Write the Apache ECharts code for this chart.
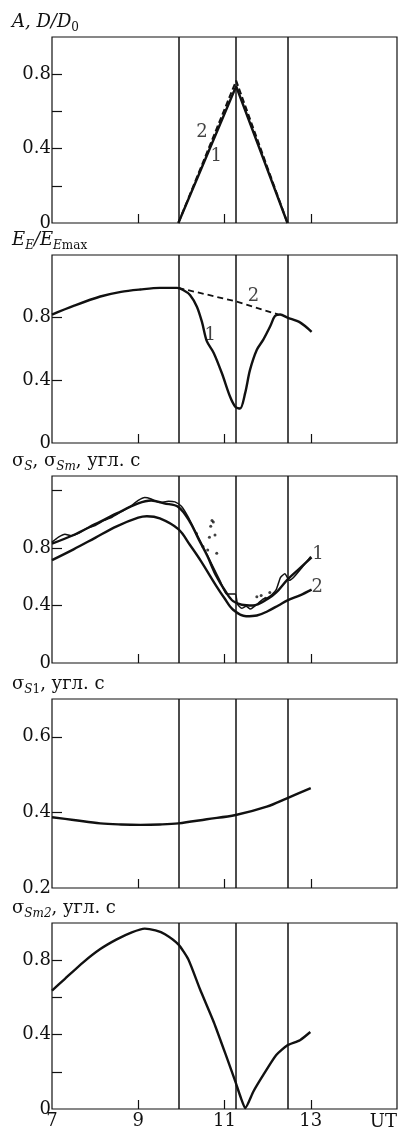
<!DOCTYPE html>
<html>
<head>
<meta charset="utf-8">
<title>eclipse panels</title>
<script src="https://cdn.jsdelivr.net/npm/echarts@6/dist/echarts.min.js"></script>
<style>
    html, body { margin: 0; padding: 0; background: #fff; }
    #chart { width: 400px; height: 1130px; }
</style>
</head>
<body>
<div id="chart"></div>
<script>
// contact times of the eclipse, UT hours (vertical lines)
var contacts = [9.93, 11.26, 12.46];

// panel 1: A (1) and D/D0 (2)
var aCurve = [[9.93, 0], [11.27, 0.735], [12.46, 0]];
var dCurve = [[9.93, 0], [11.27, 0.765], [12.46, 0]];

// panel 2: E_E/E_Emax, measured (1) and without eclipse (2)
var eMeas = [[7, 0.82], [7.5, 0.875], [8.12, 0.935], [8.6, 0.965], [9.05, 0.98], [9.5, 0.99], [9.9, 0.99],
    [10.05, 0.975], [10.2, 0.945], [10.36, 0.87], [10.48, 0.77], [10.59, 0.65], [10.75, 0.575],
    [10.94, 0.445], [11.13, 0.295], [11.25, 0.232], [11.36, 0.22], [11.48, 0.32], [11.59, 0.465],
    [11.75, 0.595], [11.9, 0.66], [12.06, 0.745], [12.17, 0.81], [12.29, 0.82], [12.46, 0.80],
    [12.75, 0.77], [13.02, 0.71]];
var eNoEcl = [[9.93, 0.99], [11.25, 0.905], [12.25, 0.82]];

// panel 3: sigma_S measured, sigma_S (1), sigma_Sm (2)
var sMeas = [[7.0, 0.84], [7.15, 0.875], [7.3, 0.895], [7.45, 0.885], [7.6, 0.9], [7.8, 0.935], [8.0, 0.955],
    [8.2, 0.99], [8.4, 1.015], [8.6, 1.05], [8.8, 1.085], [9.0, 1.13], [9.15, 1.15], [9.3, 1.14],
    [9.5, 1.115], [9.7, 1.125], [9.85, 1.12], [10.0, 1.09], [10.15, 1.02], [10.3, 0.93], [10.45, 0.84],
    [10.6, 0.75], [10.75, 0.66], [10.9, 0.57], [11.05, 0.48], [11.25, 0.48], [11.3, 0.41], [11.4, 0.38],
    [11.5, 0.395], [11.6, 0.375], [11.7, 0.395], [11.8, 0.42], [11.9, 0.445], [12.0, 0.455],
    [12.1, 0.475], [12.2, 0.51], [12.3, 0.595], [12.4, 0.62], [12.5, 0.575], [12.6, 0.595],
    [12.8, 0.665], [13.0, 0.74]];
var sCurve1 = [[7, 0.83], [7.5, 0.89], [8, 0.965], [8.5, 1.04], [9, 1.11], [9.3, 1.13], [9.6, 1.11],
    [9.93, 1.085], [10.2, 0.98], [10.4, 0.86], [10.6, 0.745], [10.8, 0.61], [11.04, 0.49], [11.2, 0.43],
    [11.4, 0.405], [11.66, 0.40], [12.0, 0.445], [12.2, 0.49], [12.46, 0.58], [12.75, 0.66], [13.02, 0.735]];
var sCurve2 = [[7, 0.715], [7.5, 0.79], [8, 0.87], [8.5, 0.95], [9, 1.01], [9.2, 1.02], [9.5, 1.005],
    [9.93, 0.93], [10.2, 0.82], [10.45, 0.71], [10.8, 0.54], [11.0, 0.45], [11.2, 0.37], [11.5, 0.325],
    [11.75, 0.33], [12.0, 0.36], [12.25, 0.40], [12.46, 0.435], [12.75, 0.47], [13.02, 0.51]];
var sDots = [[10.71, 0.99], [10.74, 0.98], [10.68, 0.95], [10.78, 0.89], [10.65, 0.875], [10.61, 0.786],
    [10.82, 0.763], [10.35, 0.9], [10.5, 0.81], [11.75, 0.46], [11.85, 0.47], [11.95, 0.45], [12.05, 0.49]];

// panel 4: sigma_S1
var s1Curve = [[7, 0.387], [7.5, 0.38], [8.12, 0.371], [8.6, 0.368], [9.05, 0.367], [9.5, 0.368],
    [9.93, 0.371], [10.59, 0.382], [11.26, 0.393], [11.98, 0.415], [12.46, 0.438], [13.0, 0.464]];

// panel 5: sigma_Sm2
var sm2Curve = [[7, 0.636], [7.3, 0.7], [7.73, 0.79], [8.12, 0.86], [8.5, 0.912], [8.85, 0.95],
    [9.15, 0.97], [9.4, 0.96], [9.62, 0.94], [9.93, 0.885], [10.16, 0.805], [10.43, 0.645],
    [10.75, 0.468], [11.06, 0.272], [11.25, 0.148], [11.38, 0.06], [11.48, 0.005], [11.67, 0.094],
    [11.9, 0.183], [12.2, 0.29], [12.46, 0.343], [12.75, 0.37], [12.99, 0.414]];

// curve numbers inside the panels
var marks1 = [{ value: [10.48, 0.485], name: '2' }, { value: [10.81, 0.357], name: '1' }];
var marks2 = [{ value: [11.67, 0.934], name: '2' }, { value: [10.67, 0.69], name: '1' }];
var marks3 = [{ value: [13.17, 0.758], name: '1' }, { value: [13.15, 0.526], name: '2' }];

// y axes: range, ticks, labels
var yRanges = [[0, 1.0], [0, 1.2], [0, 1.3], [0.2, 0.7], [0, 1.0]];
var yTicks = [[0.2, 0.4, 0.6, 0.8], [0.4, 0.8], [0.4, 0.8, 1.2], [0.4, 0.6], [0.2, 0.4, 0.6, 0.8]];
var yLabels = [[0, 0.4, 0.8], [0, 0.4, 0.8], [0, 0.4, 0.8], [0.2, 0.4, 0.6], [0, 0.4, 0.8]];
var xTicks = [9, 11, 13];
var xLabels = [7, 9, 11, 13];

var FONT = 'DejaVu Serif';
var INK = '#111';
var panelTop = [37, 255, 476, 699, 923];
var panelH = [186, 188, 187, 189, 188];

var rich = {
    n: { fontFamily: FONT, fontSize: 18, lineHeight: 24, fontWeight: 'normal', color: INK },
    i: { fontFamily: FONT, fontSize: 18, lineHeight: 24, fontWeight: 'normal', fontStyle: 'italic', color: INK },
    s: { fontFamily: FONT, fontSize: 12, lineHeight: 12, fontWeight: 'normal', fontStyle: 'italic', verticalAlign: 'bottom', color: INK },
    u: { fontFamily: FONT, fontSize: 12, lineHeight: 12, fontWeight: 'normal', verticalAlign: 'bottom', color: INK }
};
var titleTexts = [
    '{i|A, D/D}{u|0}',
    '{i|E}{s|E}{i|/E}{s|E}{u|max}',
    '{n|σ}{s|S}{n|, σ}{s|Sm}{n|, угл. с}',
    '{n|σ}{s|S}{u|1}{n|, угл. с}',
    '{n|σ}{s|Sm2}{n|, угл. с}'
];

var myChart = echarts.init(document.getElementById('chart'));

var grids = [], xAxes = [], yAxes = [], titles = [];
for (var i = 0; i < 5; i++) {
    grids.push({
        left: 52, right: 3, top: panelTop[i], height: panelH[i],
        show: true, borderColor: INK, borderWidth: 1.2, backgroundColor: 'transparent'
    });
    xAxes.push({
        gridIndex: i, type: 'value', min: 7, max: 15,
        axisLine: { show: false },
        splitLine: { show: false },
        axisTick: { show: true, inside: true, length: 9, customValues: xTicks, lineStyle: { color: INK, width: 1.2 } },
        axisLabel: {
            show: i === 4, customValues: xLabels, margin: 3,
            fontFamily: FONT, fontSize: 18, color: INK
        }
    });
    (function (idx) {
        yAxes.push({
            gridIndex: idx, type: 'value', min: yRanges[idx][0], max: yRanges[idx][1],
            axisLine: { show: false },
            splitLine: { show: false },
            axisTick: { show: true, inside: true, length: 10, customValues: yTicks[idx], lineStyle: { color: INK, width: 1.2 } },
            axisLabel: {
                customValues: yLabels[idx], margin: 1,
                fontFamily: FONT, fontSize: 18, color: INK,
                formatter: function (v) { return v === 0 ? '0' : v.toFixed(1); }
            }
        });
    })(i);
    titles.push({
        text: titleTexts[i], left: 12, top: panelTop[i] - 27, padding: 0,
        textStyle: { fontWeight: 'normal', rich: rich }
    });
}
titles.push({
    text: 'UT', right: 3, top: 1113, padding: 0,
    textStyle: { fontFamily: FONT, fontSize: 18, fontWeight: 'normal', color: INK }
});

function contactLines() {
    return {
        silent: true, symbol: ['none', 'none'],
        label: { show: false },
        lineStyle: { type: 'solid', color: INK, width: 1.5 },
        data: contacts.map(function (t) { return { xAxis: t }; })
    };
}
function curve(idx, data, opts) {
    opts = opts || {};
    var s = {
        type: 'line', xAxisIndex: idx, yAxisIndex: idx, data: data,
        showSymbol: false, symbol: 'none', smooth: opts.smooth === undefined ? 0.35 : opts.smooth,
        lineStyle: { color: INK, width: opts.width || 2.4, type: opts.dash || 'solid' },
        z: opts.z || 3, silent: true
    };
    if (opts.lines) s.markLine = contactLines();
    return s;
}
function marks(idx, data) {
    return {
        type: 'scatter', xAxisIndex: idx, yAxisIndex: idx, data: data,
        symbolSize: 1, itemStyle: { color: 'transparent' }, silent: true,
        label: { show: true, position: 'inside', formatter: '{b}', fontFamily: FONT, fontSize: 18, color: INK }
    };
}

var option = {
    animation: false,
    title: titles,
    grid: grids,
    xAxis: xAxes,
    yAxis: yAxes,
    series: [
        curve(0, aCurve, { smooth: false, lines: true }),
        curve(0, dCurve, { smooth: false, width: 2, dash: [6, 3] }),
        marks(0, marks1),

        curve(1, eMeas, { lines: true, smooth: 0.3 }),
        curve(1, eNoEcl, { smooth: false, width: 1.8, dash: [6, 4] }),
        marks(1, marks2),

        curve(2, sCurve1, { lines: true }),
        curve(2, sCurve2),
        curve(2, sMeas, { width: 1.5, smooth: 0.2 }),
        {
            type: 'scatter', xAxisIndex: 2, yAxisIndex: 2, data: sDots,
            symbolSize: 3, itemStyle: { color: INK }, silent: true
        },
        marks(2, marks3),

        curve(3, s1Curve, { lines: true }),

        curve(4, sm2Curve, { lines: true, smooth: 0.2 })
    ]
};
myChart.setOption(option);
</script>
</body>
</html>
